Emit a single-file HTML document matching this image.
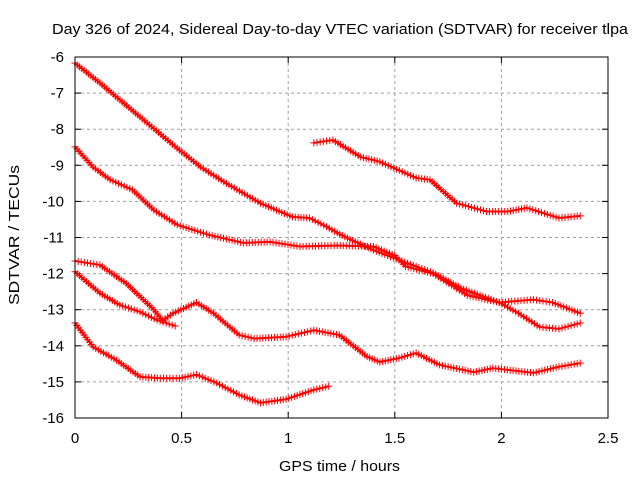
<!DOCTYPE html>
<html><head><meta charset="utf-8"><style>
body{margin:0;background:#fff}
svg{font-family:"Liberation Sans",sans-serif;font-size:15px}
</style></head><body>
<svg width="640" height="480" xmlns="http://www.w3.org/2000/svg">
<rect width="640" height="480" fill="#fff"/>
<text x="52" y="34" textLength="576" lengthAdjust="spacingAndGlyphs">Day 326 of 2024, Sidereal Day-to-day VTEC variation (SDTVAR) for receiver tlpa</text>
<text x="279" y="471" textLength="121" lengthAdjust="spacingAndGlyphs">GPS time / hours</text>
<text transform="translate(19,305) rotate(-90)" textLength="140" lengthAdjust="spacingAndGlyphs">SDTVAR / TECUs</text>
<g id="grid"></g><g id="ticks"></g><g id="series"></g>
<rect x="75" y="57" width="533" height="361" fill="none" stroke="#000"/>
</svg>
<script>
const xTicks=[0,0.5,1,1.5,2,2.5];
const xTickLabels=["0","0.5","1","1.5","2","2.5"];
const yTicks=[-6,-7,-8,-9,-10,-11,-12,-13,-14,-15,-16];
const yTickLabels=["-6","-7","-8","-9","-10","-11","-12","-13","-14","-15","-16"];
const seriesA=[[0,-6.17],[0.117,-6.72],[0.305,-7.66],[0.49,-8.58],[0.59,-9.05],[0.71,-9.5],[0.87,-10.05],[1.02,-10.43],[1.1,-10.46],[1.18,-10.7],[1.23,-10.87],[1.29,-11.05],[1.4,-11.35],[1.52,-11.62],[1.68,-11.98],[1.81,-12.4],[1.99,-12.8],[2.08,-13.1],[2.18,-13.48],[2.27,-13.53],[2.37,-13.37]];
const seriesB=[[0,-8.49],[0.085,-9.05],[0.165,-9.4],[0.27,-9.68],[0.37,-10.24],[0.48,-10.65],[0.63,-10.93],[0.79,-11.15],[0.915,-11.12],[1.055,-11.25],[1.23,-11.22],[1.4,-11.25],[1.5,-11.5],[1.55,-11.8],[1.68,-12.0],[1.84,-12.6],[1.99,-12.8],[2.15,-12.72],[2.24,-12.8],[2.37,-13.1]];
const seriesC=[[1.12,-8.38],[1.21,-8.3],[1.34,-8.77],[1.43,-8.9],[1.6,-9.35],[1.665,-9.4],[1.79,-10.05],[1.93,-10.28],[2.03,-10.28],[2.12,-10.18],[2.27,-10.46],[2.37,-10.4]];
const seriesD=[[0,-11.65],[0.117,-11.76],[0.24,-12.27],[0.37,-13.0],[0.41,-13.3],[0.46,-13.1],[0.57,-12.8],[0.65,-13.1],[0.77,-13.7],[0.84,-13.8],[0.99,-13.75],[1.12,-13.57],[1.24,-13.7],[1.37,-14.3],[1.43,-14.45],[1.52,-14.34],[1.6,-14.2],[1.71,-14.53],[1.87,-14.73],[1.96,-14.62],[2.15,-14.75],[2.27,-14.58],[2.37,-14.48]];
const seriesE=[[0,-11.95],[0.117,-12.54],[0.21,-12.87],[0.305,-13.06],[0.385,-13.29],[0.47,-13.45]];
const seriesF=[[0,-13.37],[0.085,-14.03],[0.195,-14.4],[0.305,-14.86],[0.4,-14.9],[0.49,-14.9],[0.57,-14.8],[0.665,-15.03],[0.77,-15.36],[0.87,-15.58],[0.99,-15.48],[1.12,-15.22],[1.19,-15.12]];
const allSeries=[seriesA,seriesB,seriesC,seriesD,seriesE,seriesF];
const names=["series-a","series-b","series-c","series-d","series-e","series-f"];
const X0=75,X1=608,Y0=57,Y1=418;
const sx=h=>X0+(h-0)/(2.5-0)*(X1-X0);
const sy=v=>Y0+(-6-v)/(10)*(Y1-Y0);
const NS="http://www.w3.org/2000/svg";
function mk(t,a,p){const e=document.createElementNS(NS,t);for(const k in a)e.setAttribute(k,a[k]);p.appendChild(e);return e;}
const grid=document.getElementById('grid'),ticks=document.getElementById('ticks'),ser=document.getElementById('series');
xTicks.forEach((t,i)=>{const x=sx(t);
 if(i>0&&i<xTicks.length-1){const l=mk('line',{x1:x,y1:Y0,x2:x,y2:Y1,stroke:'#a0a0a0','stroke-dasharray':'3,3'},grid);
 }
 mk('line',{x1:x,y1:Y1,x2:x,y2:Y1-6,stroke:'#000'},ticks);mk('line',{x1:x,y1:Y0,x2:x,y2:Y0+6,stroke:'#000'},ticks);
 const tx=mk('text',{x:x,y:443,'text-anchor':'middle'},ticks);tx.textContent=xTickLabels[i];
 });
yTicks.forEach((t,i)=>{const y=sy(t);
 if(i>0&&i<yTicks.length-1){const l=mk('line',{x1:X0,y1:y,x2:X1,y2:y,stroke:'#a0a0a0','stroke-dasharray':'3,3'},grid);
 }
 mk('line',{x1:X0,y1:y,x2:X0+6,y2:y,stroke:'#000'},ticks);mk('line',{x1:X1,y1:y,x2:X1-6,y2:y,stroke:'#000'},ticks);
 const tx=mk('text',{x:64,y:y+5,'text-anchor':'end'},ticks);tx.textContent=yTickLabels[i];
 });
allSeries.forEach((s,si)=>{
 const g=mk('g',{},ser);
 
 
 const pts=s.map(p=>sx(p[0])+','+sy(p[1])).join(' ');
 mk('polyline',{points:pts,fill:'none',stroke:'#f00','stroke-width':2,'stroke-linejoin':'round'},g);
 let d='';
 for(let i=0;i<s.length-1;i++){const xa=sx(s[i][0]),ya=sy(s[i][1]),xb=sx(s[i+1][0]),yb=sy(s[i+1][1]);
  const n=Math.max(1,Math.round(Math.hypot(xb-xa,yb-ya)/3));
  for(let k=0;k<n;k++){const x=xa+(xb-xa)*k/n,y=ya+(yb-ya)*k/n;d+=`M${x-3.5},${y}h7M${x},${y-3.5}v7`;}}
 const l=s[s.length-1];d+=`M${sx(l[0])-3.5},${sy(l[1])}h7M${sx(l[0])},${sy(l[1])-3.5}v7`;
 mk('path',{d:d,stroke:'#f00','stroke-width':1,fill:'none'},g);
});
</script>
</body></html>
